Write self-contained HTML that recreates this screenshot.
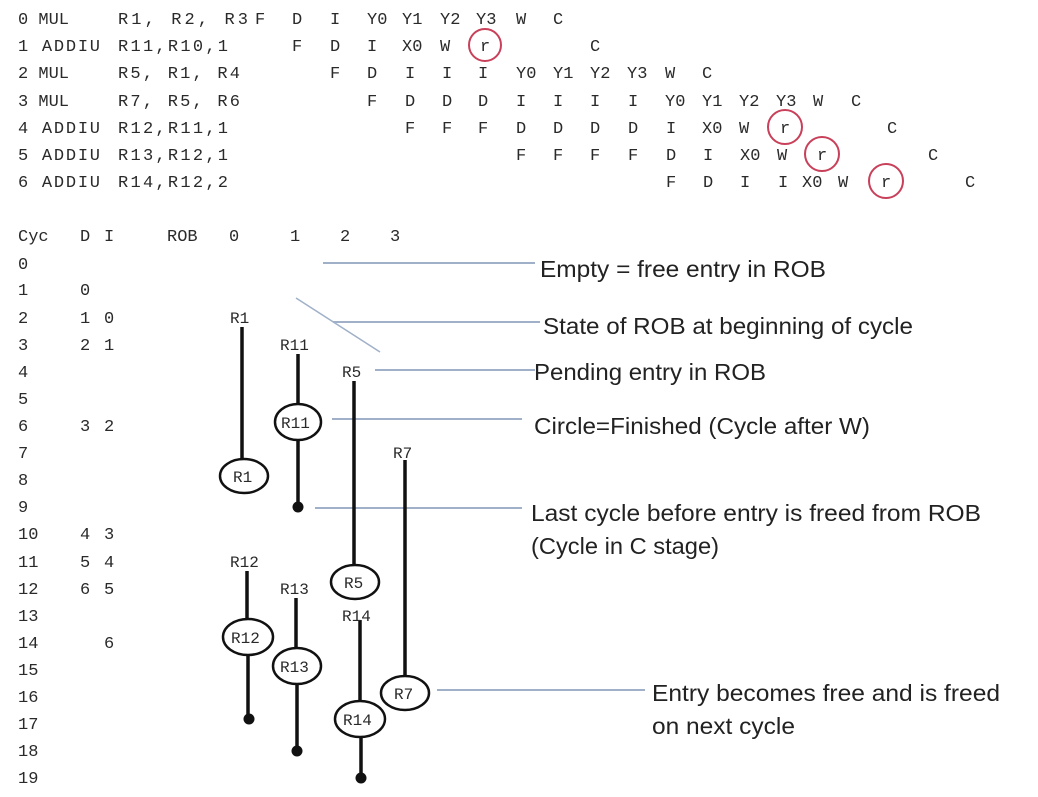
<!DOCTYPE html>
<html><head><meta charset="utf-8"><style>
html,body{margin:0;padding:0;background:#fff;}
svg{display:block;}
.m{font-family:"Liberation Mono","DejaVu Sans Mono",monospace;font-size:17px;fill:#2a2a2a;}
.s{font-family:"Liberation Sans",sans-serif;font-size:23px;fill:#222;}
.ln{stroke:#9fb0c8;stroke-width:2;}
.k{stroke:#111;stroke-width:3.5;fill:none;}
.e{stroke:#111;stroke-width:2.5;fill:#fff;}
.rc{stroke:#c8405a;stroke-width:2;fill:none;}
</style></head><body>
<svg width="1038" height="797" viewBox="0 0 1038 797" xmlns="http://www.w3.org/2000/svg">
<g class="m">
<text x="18" y="24">0 MUL</text><text x="118" y="24" textLength="130">R1, R2, R3</text>
<text x="255" y="24">F</text><text x="292" y="24">D</text><text x="330" y="24">I</text><text x="367" y="24">Y0</text><text x="402" y="24">Y1</text><text x="440" y="24">Y2</text><text x="476" y="24">Y3</text><text x="516" y="24">W</text><text x="553" y="24">C</text>
<text x="18" y="51" textLength="82">1 ADDIU</text><text x="118" y="51" textLength="110">R11,R10,1</text>
<text x="292" y="51">F</text><text x="330" y="51">D</text><text x="367" y="51">I</text><text x="402" y="51">X0</text><text x="440" y="51">W</text><text x="480" y="51">r</text><text x="590" y="51">C</text>
<text x="18" y="78">2 MUL</text><text x="118" y="78" textLength="122">R5, R1, R4</text>
<text x="330" y="78">F</text><text x="367" y="78">D</text><text x="405" y="78">I</text><text x="442" y="78">I</text><text x="478" y="78">I</text><text x="516" y="78">Y0</text><text x="553" y="78">Y1</text><text x="590" y="78">Y2</text><text x="627" y="78">Y3</text><text x="665" y="78">W</text><text x="702" y="78">C</text>
<text x="18" y="106">3 MUL</text><text x="118" y="106" textLength="122">R7, R5, R6</text>
<text x="367" y="106">F</text><text x="405" y="106">D</text><text x="442" y="106">D</text><text x="478" y="106">D</text><text x="516" y="106">I</text><text x="553" y="106">I</text><text x="590" y="106">I</text><text x="628" y="106">I</text><text x="665" y="106">Y0</text><text x="702" y="106">Y1</text><text x="739" y="106">Y2</text><text x="776" y="106">Y3</text><text x="813" y="106">W</text><text x="851" y="106">C</text>
<text x="18" y="133" textLength="82">4 ADDIU</text><text x="118" y="133" textLength="110">R12,R11,1</text>
<text x="405" y="133">F</text><text x="442" y="133">F</text><text x="478" y="133">F</text><text x="516" y="133">D</text><text x="553" y="133">D</text><text x="590" y="133">D</text><text x="628" y="133">D</text><text x="666" y="133">I</text><text x="702" y="133">X0</text><text x="739" y="133">W</text><text x="780" y="133">r</text><text x="887" y="133">C</text>
<text x="18" y="160" textLength="82">5 ADDIU</text><text x="118" y="160" textLength="110">R13,R12,1</text>
<text x="516" y="160">F</text><text x="553" y="160">F</text><text x="590" y="160">F</text><text x="628" y="160">F</text><text x="666" y="160">D</text><text x="703" y="160">I</text><text x="740" y="160">X0</text><text x="777" y="160">W</text><text x="817" y="160">r</text><text x="928" y="160">C</text>
<text x="18" y="187" textLength="82">6 ADDIU</text><text x="118" y="187" textLength="110">R14,R12,2</text>
<text x="666" y="187">F</text><text x="703" y="187">D</text><text x="740" y="187">I</text><text x="778" y="187">I</text><text x="802" y="187">X0</text><text x="838" y="187">W</text><text x="881" y="187">r</text><text x="965" y="187">C</text>
</g>
<ellipse class="rc" cx="485" cy="45" rx="16" ry="16"/>
<ellipse class="rc" cx="785" cy="127" rx="17" ry="17"/>
<ellipse class="rc" cx="822" cy="154" rx="17" ry="17"/>
<ellipse class="rc" cx="886" cy="181" rx="17" ry="17"/>

<g class="m">
<text x="18" y="241">Cyc</text><text x="80" y="241">D</text><text x="104" y="241">I</text><text x="167" y="241">ROB</text><text x="229" y="241">0</text><text x="290" y="241">1</text><text x="340" y="241">2</text><text x="390" y="241">3</text>
<text x="18" y="269">0</text>
<text x="18" y="295">1</text><text x="80" y="295">0</text>
<text x="18" y="323">2</text><text x="80" y="323">1</text><text x="104" y="323">0</text>
<text x="18" y="350">3</text><text x="80" y="350">2</text><text x="104" y="350">1</text>
<text x="18" y="377">4</text>
<text x="18" y="404">5</text>
<text x="18" y="431">6</text><text x="80" y="431">3</text><text x="104" y="431">2</text>
<text x="18" y="458">7</text>
<text x="18" y="485">8</text>
<text x="18" y="512">9</text>
<text x="18" y="539">10</text><text x="80" y="539">4</text><text x="104" y="539">3</text>
<text x="18" y="567">11</text><text x="80" y="567">5</text><text x="104" y="567">4</text>
<text x="18" y="594">12</text><text x="80" y="594">6</text><text x="104" y="594">5</text>
<text x="18" y="621">13</text>
<text x="18" y="648">14</text><text x="104" y="648">6</text>
<text x="18" y="675">15</text>
<text x="18" y="702">16</text>
<text x="18" y="729">17</text>
<text x="18" y="756">18</text>
<text x="18" y="783">19</text>
</g>

<line class="ln" x1="323" y1="263" x2="535" y2="263"/>
<line class="ln" x1="333" y1="322" x2="540" y2="322"/>
<line class="ln" x1="296" y1="298" x2="380" y2="352" style="stroke-width:1.5"/>
<line class="ln" x1="375" y1="370" x2="535" y2="370"/>
<line class="ln" x1="332" y1="419" x2="522" y2="419"/>
<line class="ln" x1="315" y1="508" x2="522" y2="508"/>
<line class="ln" x1="437" y1="690" x2="645" y2="690"/>

<g class="s">
<text x="540" y="277" textLength="286" lengthAdjust="spacingAndGlyphs">Empty = free entry in ROB</text>
<text x="543" y="334" textLength="370" lengthAdjust="spacingAndGlyphs">State of ROB at beginning of cycle</text>
<text x="534" y="380" textLength="232" lengthAdjust="spacingAndGlyphs">Pending entry in ROB</text>
<text x="534" y="434" textLength="336" lengthAdjust="spacingAndGlyphs">Circle=Finished (Cycle after W)</text>
<text x="531" y="521" textLength="450" lengthAdjust="spacingAndGlyphs">Last cycle before entry is freed from ROB</text>
<text x="531" y="554" textLength="188" lengthAdjust="spacingAndGlyphs">(Cycle in C stage)</text>
<text x="652" y="701" textLength="348" lengthAdjust="spacingAndGlyphs">Entry becomes free and is freed</text>
<text x="652" y="734" textLength="143" lengthAdjust="spacingAndGlyphs">on next cycle</text>
</g>

<g class="k">
<line x1="242" y1="327" x2="242" y2="460"/>
<line x1="298" y1="354" x2="298" y2="405"/>
<line x1="298" y1="440" x2="298" y2="506"/>
<line x1="354" y1="381" x2="354" y2="565"/>
<line x1="405" y1="460" x2="405" y2="677"/>
<line x1="247" y1="571" x2="247" y2="620"/>
<line x1="248" y1="655" x2="248" y2="718"/>
<line x1="296" y1="598" x2="296" y2="649"/>
<line x1="297" y1="684" x2="297" y2="750"/>
<line x1="360" y1="620" x2="360" y2="702"/>
<line x1="361" y1="736" x2="361" y2="777"/>
</g>
<g>
<circle cx="298" cy="507" r="5.5" fill="#111"/>
<circle cx="249" cy="719" r="5.5" fill="#111"/>
<circle cx="297" cy="751" r="5.5" fill="#111"/>
<circle cx="361" cy="778" r="5.5" fill="#111"/>
</g>
<ellipse class="e" cx="244" cy="476" rx="24" ry="17"/>
<ellipse class="e" cx="298" cy="422" rx="23" ry="18"/>
<ellipse class="e" cx="355" cy="582" rx="24" ry="17"/>
<ellipse class="e" cx="405" cy="693" rx="24" ry="17"/>
<ellipse class="e" cx="248" cy="637" rx="25" ry="18"/>
<ellipse class="e" cx="297" cy="666" rx="24" ry="18"/>
<ellipse class="e" cx="360" cy="719" rx="25" ry="18"/>
<g class="m" style="font-size:16px">
<text x="230" y="323">R1</text>
<text x="280" y="350">R11</text>
<text x="342" y="377">R5</text>
<text x="393" y="458">R7</text>
<text x="230" y="567">R12</text>
<text x="280" y="594">R13</text>
<text x="342" y="621">R14</text>
<text x="233" y="482">R1</text>
<text x="281" y="428">R11</text>
<text x="344" y="588">R5</text>
<text x="394" y="699">R7</text>
<text x="231" y="643">R12</text>
<text x="280" y="672">R13</text>
<text x="343" y="725">R14</text>
</g>
</svg>
</body></html>
